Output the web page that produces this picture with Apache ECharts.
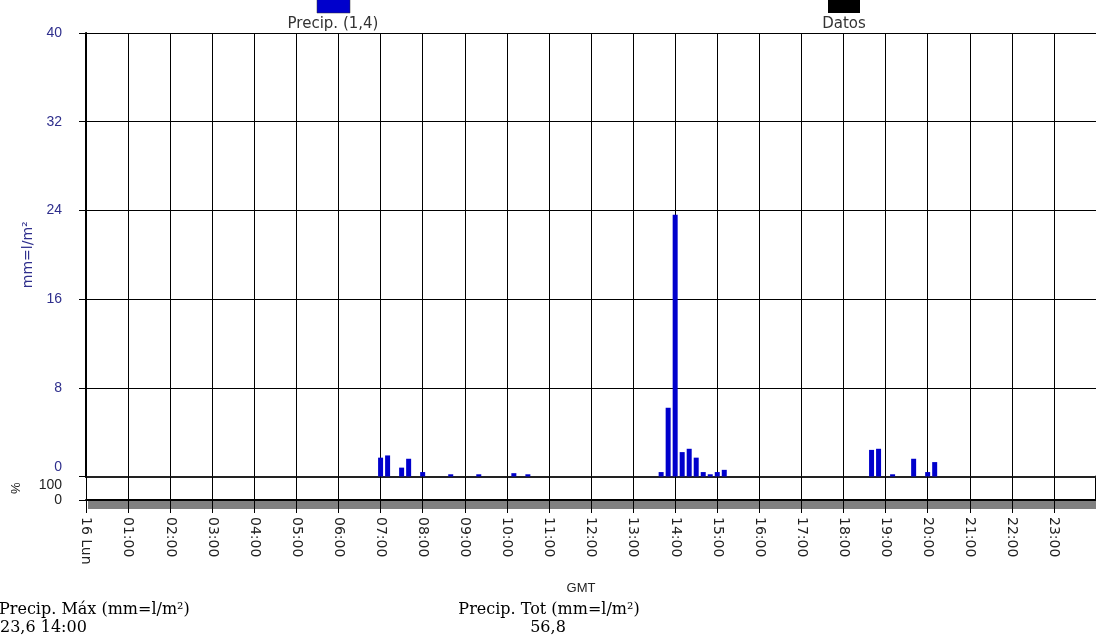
<!DOCTYPE html>
<html>
<head>
<meta charset="utf-8">
<script src="https://cdn.jsdelivr.net/npm/echarts@6/dist/echarts.min.js"></script>
<style>
  html, body { margin: 0; padding: 0; background: #fff; }
  #chart { width: 1096px; height: 641px; }
</style>
</head>
<body>
<div id="chart"></div>
<script>
// etiquetas del eje horario
const hourLabels = ['16 Lun', '01:00', '02:00', '03:00', '04:00', '05:00', '06:00', '07:00',
    '08:00', '09:00', '10:00', '11:00', '12:00', '13:00', '14:00', '15:00', '16:00',
    '17:00', '18:00', '19:00', '20:00', '21:00', '22:00', '23:00'];

// precipitación cada 10 minutos (solo los intervalos con lluvia)
const barTimes = ['07:00', '07:10', '07:30', '07:40', '08:00', '08:40', '09:20', '10:10', '10:30',
    '13:40', '13:50', '14:00', '14:10', '14:20', '14:30', '14:40', '14:50', '15:00', '15:10',
    '18:40', '18:50', '19:10', '19:40', '20:00', '20:10'];
const precip = [1.7, 1.9, 0.8, 1.6, 0.4, 0.2, 0.2, 0.3, 0.2,
    0.4, 6.2, 23.6, 2.2, 2.5, 1.7, 0.4, 0.2, 0.4, 0.6,
    2.4, 2.5, 0.2, 1.6, 0.4, 1.3];

const precipTicks = [0, 8, 16, 24, 32, 40];
const pctTicks = [0, 100];

const seriesName = 'Precip. (1,4)';
const maxText = ['Precip. Máx (mm=l/m²)', '23,6 14:00'];
const totText = ['Precip. Tot (mm=l/m²)', '56,8'];

function toHours(t) {
    let p = t.split(':');
    return Number(p[0]) + Number(p[1]) / 60;
}

let barData = barTimes.map((t, i) => [toHours(t), precip[i]]);

let myChart = echarts.init(document.getElementById('chart'));

const navy = '#2e2e8c';
const line = '#000';
const serif = '16px "DejaVu Serif"';

let option = {
    animation: false,
    grid: [
        { left: 86, top: 33, width: 1016, height: 443.5 },
        { left: 86, top: 476.5, width: 1016, height: 23.5 }
    ],
    xAxis: [
        {
            type: 'value', gridIndex: 0, position: 'bottom', min: 0, max: 24, interval: 1,
            axisLine: { show: true, lineStyle: { color: line, width: 2 } },
            axisTick: { show: false }, axisLabel: { show: false },
            splitLine: { show: true, lineStyle: { color: line, width: 1 } }
        },
        {
            type: 'value', gridIndex: 0, position: 'top', min: 0, max: 24, interval: 1,
            axisLine: { show: true, lineStyle: { color: '#222', width: 2 } },
            axisTick: { show: false }, axisLabel: { show: false }, splitLine: { show: false }
        },
        {
            type: 'value', gridIndex: 1, position: 'bottom', min: 0, max: 24, interval: 1, z: 5,
            axisLine: { show: true, lineStyle: { color: line, width: 2 } },
            axisTick: { show: true, length: 13, lineStyle: { color: line, width: 1 } },
            axisLabel: {
                rotate: -90, margin: 17, color: '#222', fontFamily: 'DejaVu Sans', fontSize: 14,
                formatter: v => hourLabels[Math.round(v)] || ''
            },
            splitLine: { show: true, lineStyle: { color: line, width: 1 } },
            name: 'GMT', nameLocation: 'middle', nameGap: 82,
            nameTextStyle: { color: '#222', fontFamily: 'Liberation Sans', fontSize: 13, padding: [0, 20, 0, 0] }
        }
    ],
    yAxis: [
        {
            type: 'value', gridIndex: 0, min: precipTicks[0], max: precipTicks[precipTicks.length - 1],
            interval: precipTicks[1] - precipTicks[0], offset: 7,
            axisLine: { show: true, lineStyle: { color: line, width: 1 } },
            axisTick: { show: true, length: 7, lineStyle: { color: line } },
            axisLabel: {
                margin: 17, color: navy, fontFamily: 'Liberation Sans', fontSize: 14, hideOverlap: false,
                formatter: v => v === 0 ? '{up|0}' : String(v),
                rich: { up: { color: navy, fontFamily: 'Liberation Sans', fontSize: 14, padding: [0, 0, 18, 0] } }
            },
            splitLine: { show: true, lineStyle: { color: line, width: 1 } },
            name: 'mm=l/m²', nameLocation: 'middle', nameRotate: 90, nameGap: 43,
            nameTextStyle: { color: navy, fontFamily: 'DejaVu Sans', fontSize: 14 }
        },
        {
            type: 'value', gridIndex: 0, min: 0, max: 40, offset: 0,
            axisLine: { show: true, lineStyle: { color: line, width: 2 } },
            axisTick: { show: false }, axisLabel: { show: false }, splitLine: { show: false }
        },
        {
            type: 'value', gridIndex: 1, min: pctTicks[0], max: pctTicks[1],
            interval: pctTicks[1] - pctTicks[0], offset: 7,
            axisLine: { show: true, lineStyle: { color: line, width: 1 } },
            axisTick: { show: true, length: 7, lineStyle: { color: line } },
            axisLabel: {
                margin: 17, color: '#222', fontFamily: 'Liberation Sans', fontSize: 14,
                hideOverlap: false, showMinLabel: true, showMaxLabel: true,
                formatter: v => v === 100 ? '{down|100}' : String(v),
                rich: { down: { color: '#222', fontFamily: 'Liberation Sans', fontSize: 14, padding: [18, 0, 0, 0] } }
            },
            splitLine: { show: false },
            name: '%', nameLocation: 'middle', nameRotate: 90, nameGap: 56,
            nameTextStyle: { color: '#222', fontFamily: 'Liberation Sans', fontSize: 13 }
        },
        {
            type: 'value', gridIndex: 1, min: 0, max: 100, offset: 0,
            axisLine: { show: true, lineStyle: { color: line, width: 2 } },
            axisTick: { show: false }, axisLabel: { show: false }, splitLine: { show: false }
        }
    ],
    series: [{
        name: seriesName,
        type: 'bar',
        xAxisIndex: 0,
        yAxisIndex: 0,
        barWidth: 5,
        itemStyle: { color: '#0000cc' },
        data: barData
    }],
    graphic: [
        { type: 'rect', z: -10, shape: { x: 88, y: 501, width: 1010, height: 8 }, style: { fill: '#808080' } },
        { type: 'rect', shape: { x: 317, y: -2, width: 33, height: 15 }, style: { fill: '#0000cc', stroke: '#333', lineWidth: 0.5 } },
        { type: 'text', x: 333, y: 24, style: { text: seriesName, fill: '#333', font: '15px "DejaVu Sans"', align: 'center', verticalAlign: 'middle' } },
        { type: 'rect', shape: { x: 828, y: -2, width: 32, height: 15 }, style: { fill: '#000' } },
        { type: 'text', x: 844, y: 24, style: { text: 'Datos', fill: '#333', font: '15px "DejaVu Sans"', align: 'center', verticalAlign: 'middle' } },
        { type: 'text', x: -1, y: 610, style: { text: maxText[0], fill: '#000', font: serif, verticalAlign: 'middle' } },
        { type: 'text', x: 0, y: 628, style: { text: maxText[1], fill: '#000', font: serif, verticalAlign: 'middle' } },
        { type: 'text', x: 549, y: 610, style: { text: totText[0], fill: '#000', font: serif, align: 'center', verticalAlign: 'middle' } },
        { type: 'text', x: 548, y: 628, style: { text: totText[1], fill: '#000', font: serif, align: 'center', verticalAlign: 'middle' } }
    ]
};

myChart.setOption(option);
</script>
</body>
</html>
